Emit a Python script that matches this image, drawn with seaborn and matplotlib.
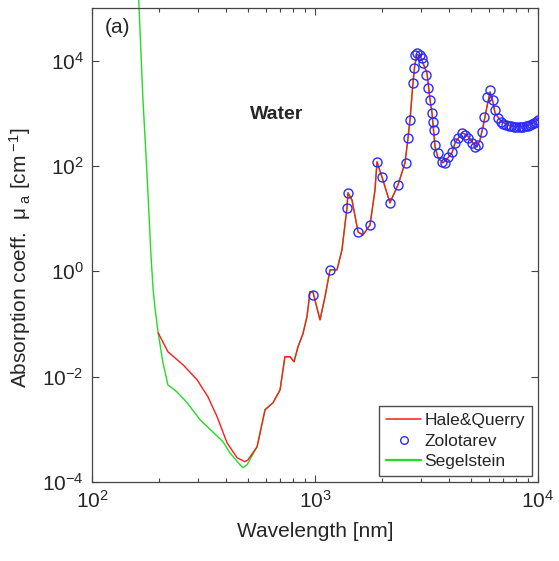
import pandas as pd
import seaborn as sns
import matplotlib.pyplot as plt
from matplotlib.lines import Line2D
from matplotlib.ticker import LogLocator, NullLocator

# wavelength [nm] and absorption [cm^-1]
hq_uv_wl = [198, 219, 256, 296, 331, 364, 403, 447, 485, 501]
hq_uv_mua = [0.068, 0.0297, 0.0168, 8.7e-3, 4.16e-3, 1.73e-3, 5.57e-4, 2.89e-4, 2.43e-4, 2.65e-4]

seg_uv_wl = [162, 169, 177, 184, 188, 192, 198, 208, 219, 240, 267, 305, 387, 415, 461, 475, 496]
seg_uv_mua = [1.42e5, 2050, 54.5, 1.88, 0.446, 0.186, 0.068, 0.0184, 7.0e-3, 5.17e-3, 3.2e-3,
              1.52e-3, 5.8e-4, 3.6e-4, 2.13e-4, 1.87e-4, 2.13e-4]

# part where Hale&Querry and Segelstein coincide
ir_wl = [550, 597, 648, 697, 733, 773, 805, 839, 883, 921, 950, 980, 1021, 1053, 1109, 1168,
         1255, 1321, 1391, 1406, 1465, 1560, 1641, 1765, 1858, 1897, 1997, 2168, 2357, 2533,
         2613, 2667, 2750, 2800, 2866, 2958, 3050, 3178, 3280, 3348, 3400, 3455, 3563, 3750,
         3947, 4112, 4245, 4563, 4806, 5060, 5325, 5497, 5665, 5903, 6094, 6284, 6415, 6757,
         7261, 8300, 9204, 10000]
ir_mua = [4.68e-4, 2.36e-3, 3.2e-3, 5.6e-3, 0.0239, 0.0239, 0.0192, 0.0369, 0.065, 0.14, 0.41,
          0.40, 0.2, 0.12, 0.33, 1.07, 1.07, 2.56, 16, 31, 22.7, 5.6, 4.9, 7.6, 35, 120, 62, 20,
          44, 115, 341, 750, 3780, 8000, 13000, 12800, 9040, 5840, 1795, 1018, 484, 230, 143,
          115, 143, 177, 274, 425, 389, 287, 230, 313, 552, 1322, 2547, 1645, 1018, 750, 603,
          552, 603, 750]

zol_wl = [980, 1168, 1391, 1406, 1560, 1765, 1897, 1997, 2168, 2357, 2560, 2613, 2667, 2750,
          2780, 2807, 2866, 2958, 3020, 3050, 3148, 3210, 3280, 3348, 3380, 3410, 3455, 3563,
          3713, 3830, 3947, 4112, 4245, 4374, 4563, 4712, 4855, 5060, 5212, 5377, 5612, 5731,
          5903, 6094, 6284, 6415, 6623, 6800, 7000, 7200, 7400, 7600, 7800, 8000, 8200, 8400,
          8600, 8800, 9000, 9200, 9400, 9600, 9800, 10000]
zol_mua = [0.358, 1.07, 16, 31, 5.6, 7.6, 120, 62, 20, 44, 115, 341, 750, 3780, 7270, 12800,
           14000, 12800, 11250, 9040, 5360, 3030, 1795, 1018, 687, 484, 251, 177, 120, 115, 149,
           185, 274, 341, 425, 389, 341, 274, 230, 251, 444, 855, 2050, 2780, 1795, 1160, 818,
           680, 630, 600, 580, 565, 555, 550, 550, 550, 555, 565, 580, 600, 625, 660, 700, 750]

hq = pd.DataFrame({"wl": hq_uv_wl + ir_wl, "mua": hq_uv_mua + ir_mua})
seg = pd.DataFrame({"wl": seg_uv_wl + ir_wl, "mua": seg_uv_mua + ir_mua})
zol = pd.DataFrame({"wl": zol_wl, "mua": zol_mua})

sns.set_style("ticks")
plt.rcParams["font.family"] = ["Liberation Sans", "DejaVu Sans"]
plt.rcParams["mathtext.fontset"] = "custom"
plt.rcParams["mathtext.rm"] = "Liberation Sans"
plt.rcParams["mathtext.it"] = "Liberation Sans:italic"
plt.rcParams["axes.unicode_minus"] = False

fig = plt.figure(figsize=(5.59, 5.61), dpi=100)
ax = fig.add_axes([0.1646, 0.1408, 0.7978, 0.8449])
ax.set_xscale("log")
ax.set_yscale("log")

sns.lineplot(data=seg, x="wl", y="mua", ax=ax, color="#22dd22", lw=1.0, estimator=None,
             sort=False, clip_on=False, zorder=2)
sns.lineplot(data=hq, x="wl", y="mua", ax=ax, color="#ff1a1a", lw=1.0, estimator=None,
             sort=False, zorder=3)
sns.lineplot(data=zol, x="wl", y="mua", ax=ax, estimator=None, sort=False, linestyle="",
             marker="o", markersize=6.5, markerfacecolor="none", markeredgecolor="#2b2bff",
             markeredgewidth=1.0, zorder=4)

ax.set_xlim(100, 10000)
ax.set_ylim(1e-4, 1e5)
ax.set_yticks([1e-4, 1e-2, 1e0, 1e2, 1e4])
ax.yaxis.set_minor_locator(NullLocator())
ax.xaxis.set_major_locator(LogLocator(base=10))
ax.xaxis.set_minor_locator(LogLocator(base=10, subs=range(2, 10)))
ax.tick_params(which="both", direction="in", top=True, right=True, labelsize=15,
               color="#444444", width=0.8)
ax.tick_params(which="major", length=5, pad=6)
ax.tick_params(which="minor", length=3)
for s in ax.spines.values():
    s.set_color("#444444")
    s.set_linewidth(0.9)

ax.set_xlabel("Wavelength [nm]", fontsize=15, labelpad=7)
ax.set_ylabel("Absorption coeff.  μ$_{\\ \\mathrm{a}}$ [cm$^{\\ \\mathrm{-1}}$]", fontsize=15)
ax.yaxis.set_label_coords(-0.132, 0.473)
ax.text(0.028, 0.978, "(a)", transform=ax.transAxes, fontsize=15, va="top", ha="left")
ax.text(0.413, 0.776, "Water", transform=ax.transAxes, fontsize=14, fontweight="bold",
        va="center", ha="center")

handles = [
    Line2D([], [], color="#ff1a1a", lw=1.1),
    Line2D([], [], linestyle="", marker="o", markersize=5.5, markerfacecolor="none",
           markeredgecolor="#2b2bff"),
    Line2D([], [], color="#22dd22", lw=1.6),
]
leg = ax.legend(handles, ["Hale&Querry", "Zolotarev", "Segelstein"], loc="lower right",
                fontsize=12.5, frameon=True, fancybox=False, edgecolor="#222222",
                handlelength=2.0, handletextpad=0.2, borderaxespad=0.35, labelspacing=0.3,
                borderpad=0.4)
leg.get_frame().set_linewidth(1.0)

fig.savefig("out.png", dpi=100, facecolor="white")
